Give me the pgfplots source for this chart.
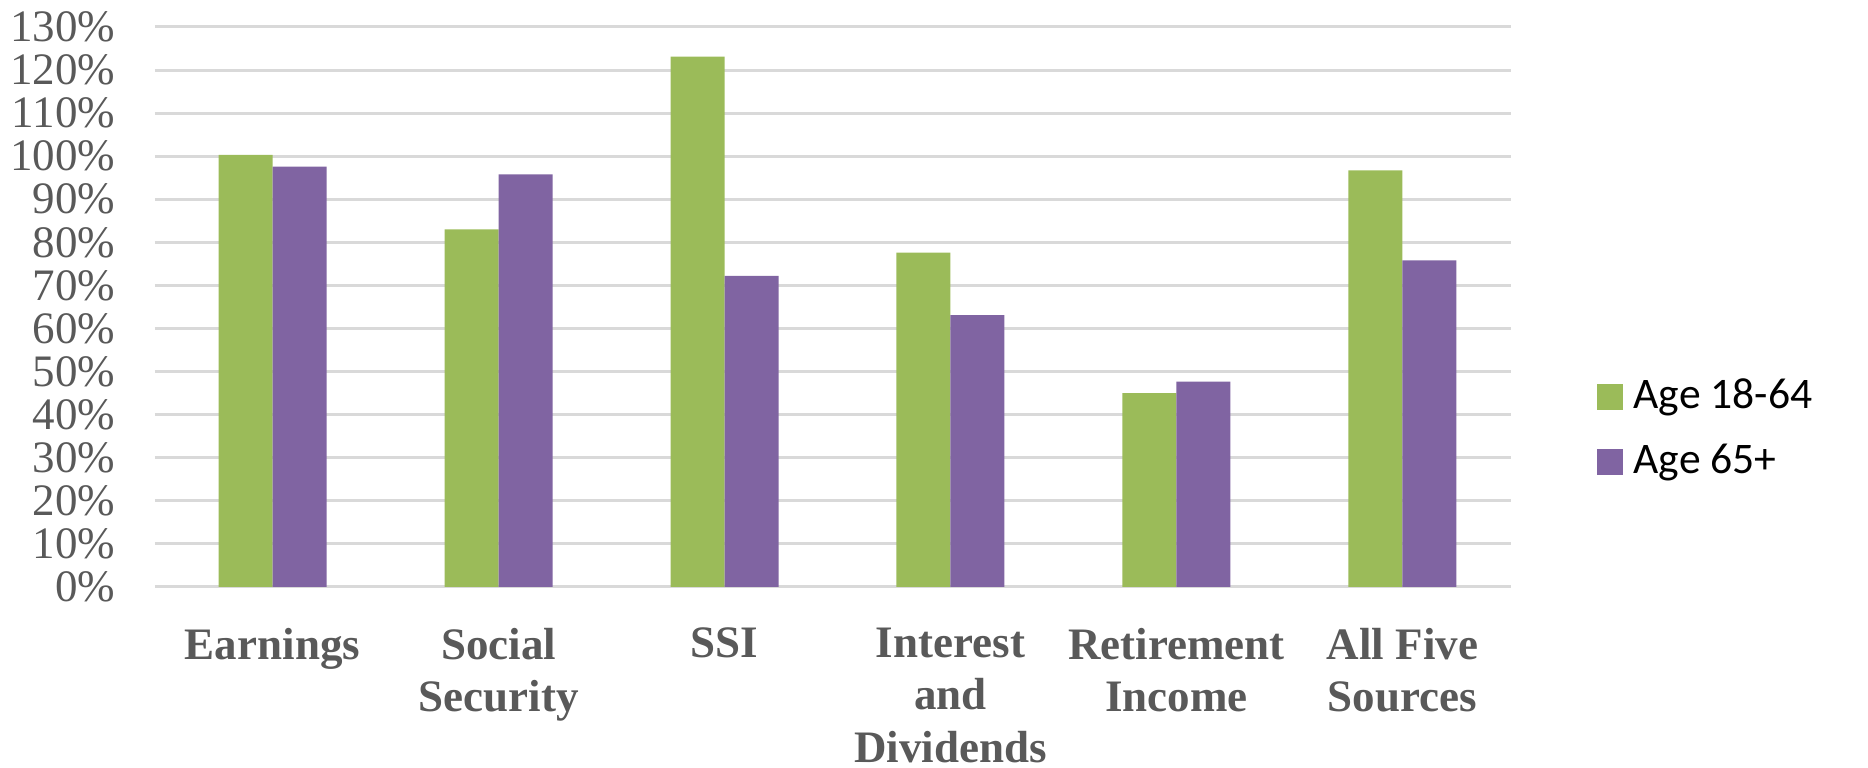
\documentclass[border=0pt]{standalone}
\usepackage{fontspec}
\setmainfont{Liberation Serif}
\newfontfamily\legfont{Carlito}
\usepackage{pgfplots}
\pgfplotsset{compat=1.18}
\definecolor{grn}{HTML}{9BBB59}
\definecolor{prp}{HTML}{8064A2}
\definecolor{gridgray}{HTML}{D9D9D9}
\definecolor{txtgray}{HTML}{595959}
\begin{document}
\begin{tikzpicture}
\begin{axis}[
  at={(0,0)}, anchor=south west,
  scale only axis, width=339pt, height=140pt,
  ybar=0pt, bar width=13.5pt,
  xmin=-0.52, xmax=5.48, ymin=0, ymax=130,
  xtick=data,
  xticklabels={Earnings,Social\\Security,SSI,Interest\\and\\Dividends,Retirement\\Income,All Five\\Sources},
  ytick={0,10,...,130},
  yticklabel={\pgfmathparse{int(\tick)}\pgfmathresult\%},
  axis line style={draw=none},
  major tick length=0pt,
  ymajorgrids, grid style={gridgray, line width=0.75pt},
  yticklabel style={font=\fontsize{11.25}{13}\selectfont, text=txtgray, anchor=east, inner xsep=0pt, xshift=-9.75pt},
  xticklabel style={font=\fontsize{11.25}{13.1}\selectfont\bfseries, text=txtgray, align=center, anchor=north, yshift=-6.7pt},
  legend style={at={(1.0627,0.282)}, anchor=west, draw=none, fill=none, inner sep=0pt,
    font=\fontsize{10.9}{13}\selectfont\legfont, row sep=3.4pt,
    nodes={inner xsep=1.5pt}},
  legend cell align=left,
  legend image code/.code={\fill[#1] (0pt,-3.25pt) rectangle (6.5pt,3.25pt);},
]
\addplot[fill=grn, draw=none] coordinates {(0,100.3) (1,83.0) (2,123.1) (3,77.6) (4,45.0) (5,96.7)};
\addlegendentry{\hspace{1.2pt}Age 18-64}
\addplot[fill=prp, draw=none] coordinates {(0,97.6) (1,95.8) (2,72.2) (3,63.1) (4,47.7) (5,75.8)};
\addlegendentry{\hspace{1.2pt}Age 65+}
\end{axis}
\pgfresetboundingbox
\path[use as bounding box] (-38.75pt,-45.25pt) rectangle (428.25pt,146.75pt);
\end{tikzpicture}
\end{document}
